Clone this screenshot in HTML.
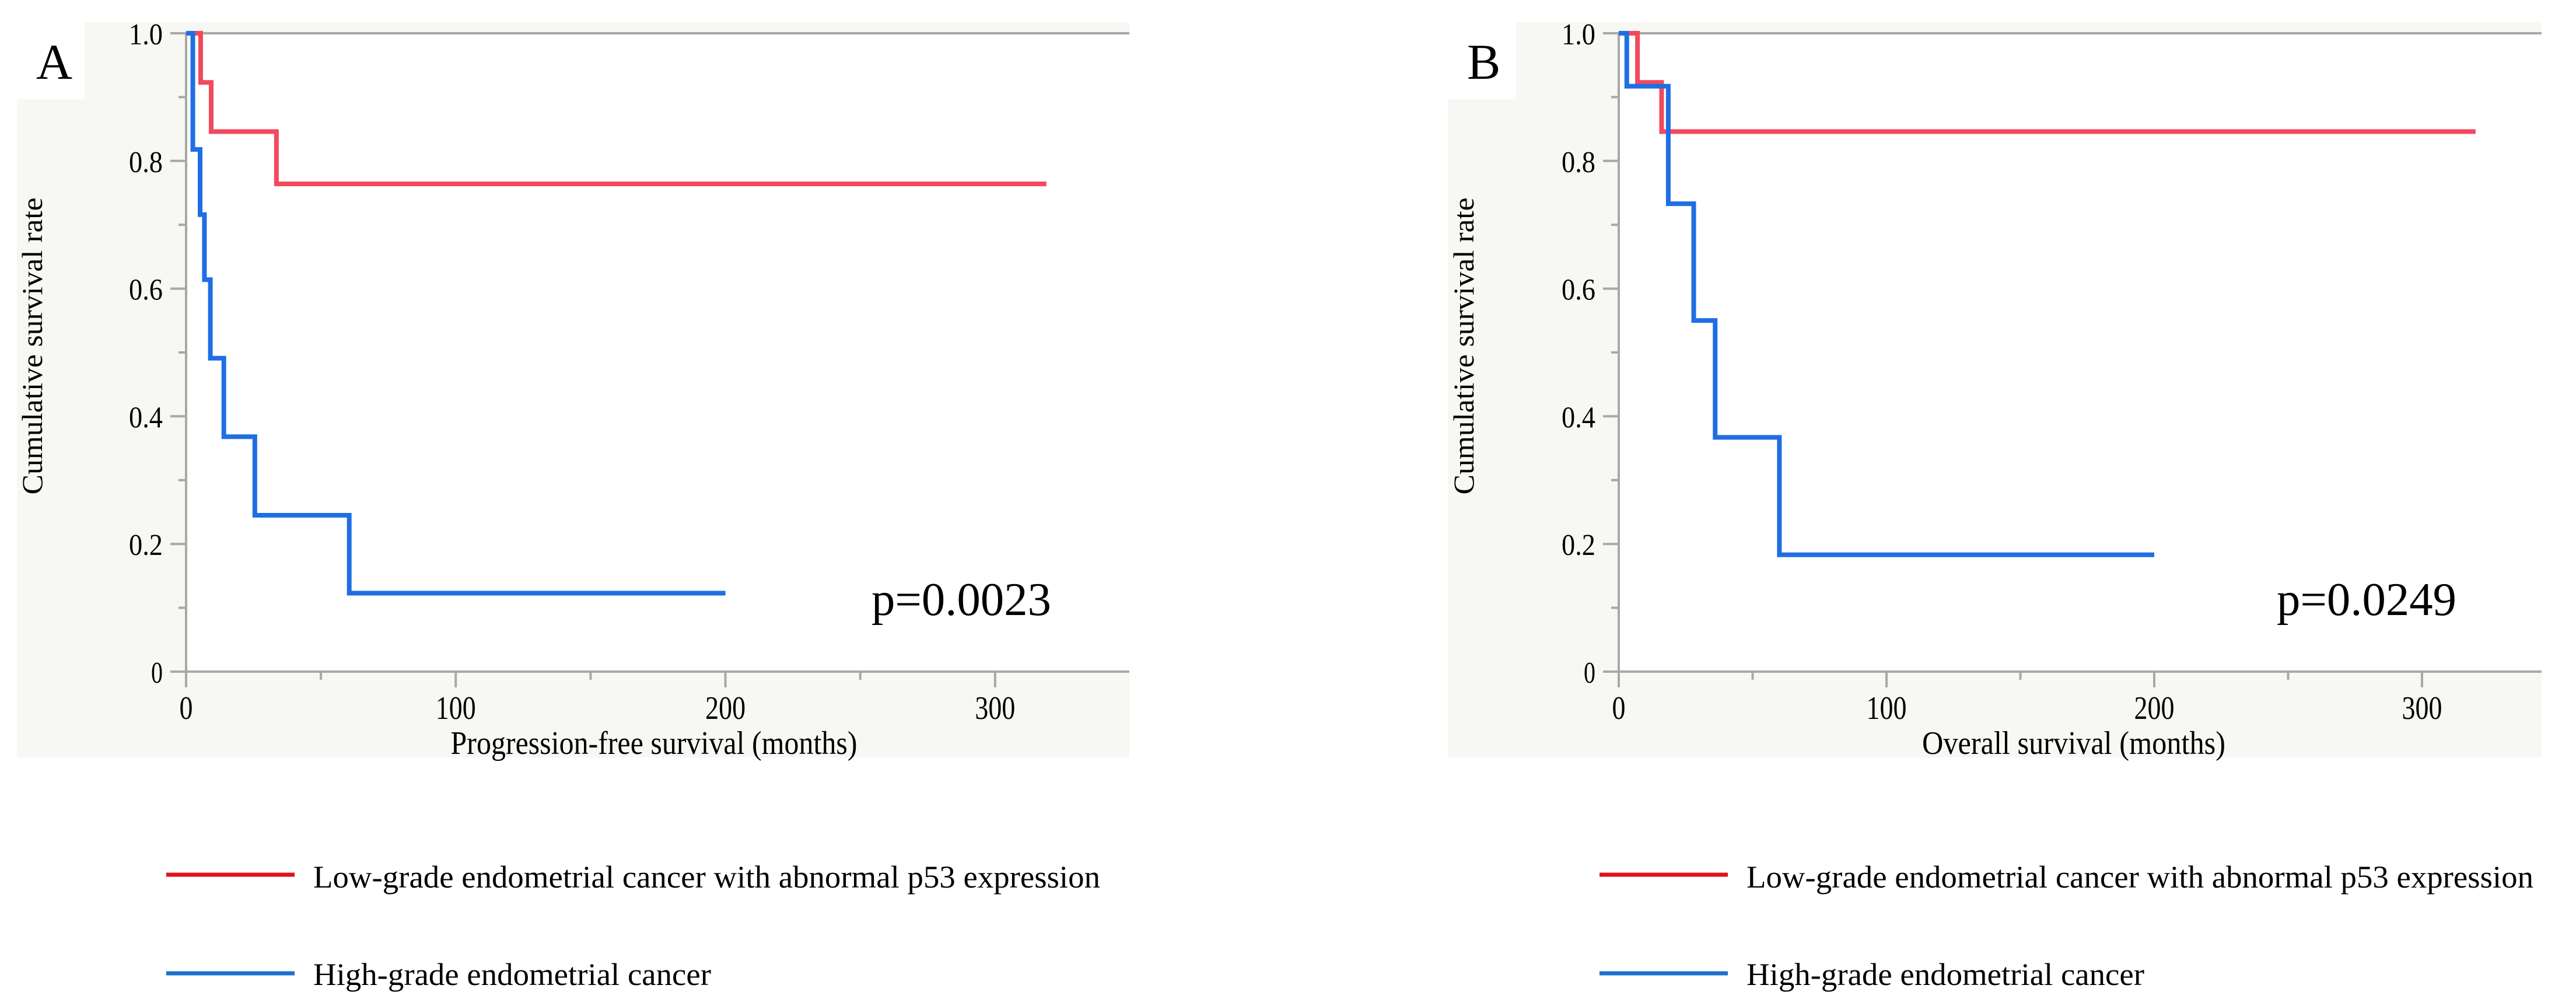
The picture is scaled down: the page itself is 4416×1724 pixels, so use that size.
<!DOCTYPE html>
<html><head><meta charset="utf-8"><style>
html,body{margin:0;padding:0;background:#fff;}
svg{display:block;font-family:"Liberation Serif",serif;}
</style></head><body>
<svg id="root" width="4416" height="1724" viewBox="0 0 4416 1724" xmlns="http://www.w3.org/2000/svg"></svg>
<script>
// Panel A (progression-free survival)
const aLowTimes = [0, 5.4, 9.3, 33.5, 319];
const aLowSurv  = [1.0, 0.923, 0.846, 0.764, 0.764];
const aHighTimes = [0, 2.5, 5.2, 6.8, 9.0, 14.0, 25.5, 60.5, 200];
const aHighSurv  = [1.0, 0.818, 0.716, 0.614, 0.491, 0.368, 0.245, 0.123, 0.123];
// Panel B (overall survival)
const bLowTimes = [0, 7, 16, 320];
const bLowSurv  = [1.0, 0.923, 0.846, 0.846];
const bHighTimes = [0, 3, 18.5, 28, 36, 60, 200];
const bHighSurv  = [1.0, 0.917, 0.733, 0.55, 0.367, 0.183, 0.183];
const xTickVals = [0, 100, 200, 300];
const xMinorVals = [50, 150, 250];
const yTickVals = [0, 0.2, 0.4, 0.6, 0.8, 1.0];
const yTickLabels = ["0", "0.2", "0.4", "0.6", "0.8", "1.0"];
const yMinorVals = [0.1, 0.3, 0.5, 0.7, 0.9];
const pValues = ["p=0.0023", "p=0.0249"];
const panelLetters = ["A", "B"];
const xTitles = ["Progression-free survival (months)", "Overall survival (months)"];
const legendLabels = ["Low-grade endometrial cancer with abnormal p53 expression", "High-grade endometrial cancer"];

const NS = "http://www.w3.org/2000/svg";
const root = document.getElementById('root');
function mk(tag, attrs, parent) {
  const e = document.createElementNS(NS, tag);
  for (const k in attrs) e.setAttribute(k, attrs[k]);
  (parent || root).appendChild(e);
  return e;
}
function txt(parent, s, attrs) {
  const t = mk('text', attrs, parent);
  t.textContent = s;
  return t;
}

function drawPanel(off, idx, lowT, lowS, highT, highS) {
  const g = mk('g', {});
  
  
  const x0 = idx ? 2775 : 319;
  const pxPerUnit = idx ? 4.59 : 4.623;
  const yTop = 57, yBot = 1151;
  const xs = v => x0 + v * pxPerUnit;
  const ys = v => yBot - v * (yBot - yTop);
  const bgLeft = idx ? 2482 : 29;
  const bgRight = idx ? 4357 : 1936;
  const bg = mk('rect', {x: bgLeft, y: 38, width: bgRight - bgLeft, height: 1260, fill: '#f7f7f3'}, g);
  
  
  const plot = mk('rect', {x: x0, y: yTop, width: bgRight - x0, height: yBot - yTop, fill: '#ffffff'}, g);
  
  
  const lb = mk('rect', {x: idx ? 2478 : 0, y: 0, width: idx ? 121 : 145, height: 170, fill: '#ffffff'}, g);
  
  
  const lt = txt(g, panelLetters[idx], {x: idx ? 2515 : 62, y: 135, 'font-size': 86});
  
  
  const top = mk('line', {x1: x0 - 27, y1: yTop, x2: bgRight, y2: yTop, stroke: '#a8a8a8', 'stroke-width': 4}, g);
  
  
  const ya = mk('line', {x1: x0, y1: yTop, x2: x0, y2: yBot + 27, stroke: '#a8a8a8', 'stroke-width': 4}, g);
  
  
  const xa = mk('line', {x1: x0 - 27, y1: yBot, x2: bgRight, y2: yBot, stroke: '#a8a8a8', 'stroke-width': 4}, g);
  
  
  yTickVals.forEach((v, i) => {
    const y = ys(v);
    const tk = mk('line', {x1: x0 - 27, y1: y, x2: x0, y2: y, stroke: '#a8a8a8', 'stroke-width': 4}, g);
    
    
    const lab = yTickLabels[i];
    const t = txt(g, lab, {x: x0 - 40, y: y + 19, 'font-size': 52, 'text-anchor': 'end', textLength: lab.length === 1 ? 20 : 58, lengthAdjust: 'spacingAndGlyphs'});
    
    
  });
  yMinorVals.forEach(v => {
    const tk = mk('line', {x1: x0 - 13, y1: ys(v), x2: x0, y2: ys(v), stroke: '#a8a8a8', 'stroke-width': 4}, g);
    
    
  });
  xTickVals.forEach(v => {
    const x = xs(v);
    const tk = mk('line', {x1: x, y1: yBot, x2: x, y2: yBot + 27, stroke: '#a8a8a8', 'stroke-width': 4}, g);
    
    
    const lab = String(v);
    const t = txt(g, lab, {x: x, y: 1232, 'font-size': 56, 'text-anchor': 'middle', textLength: lab.length * 23, lengthAdjust: 'spacingAndGlyphs'});
    
    
  });
  xMinorVals.forEach(v => {
    const tk = mk('line', {x1: xs(v), y1: yBot, x2: xs(v), y2: yBot + 14, stroke: '#a8a8a8', 'stroke-width': 4}, g);
    
    
  });
  const xtW = idx ? 520 : 697;
  const xt = txt(g, xTitles[idx], {x: idx ? 3555 : 1121, y: 1292, 'font-size': 56, 'text-anchor': 'middle', textLength: xtW, lengthAdjust: 'spacingAndGlyphs'});
  
  
  const ytx = idx ? 2526 : 72;
  const yt = txt(g, 'Cumulative survival rate', {x: 0, y: 0, 'font-size': 50, 'text-anchor': 'middle', textLength: 509, lengthAdjust: 'spacingAndGlyphs', transform: 'translate(' + ytx + ',593) rotate(-90)'});
  
  
  function stepPath(T, S) {
    let d = 'M' + xs(T[0]) + ' ' + ys(S[0]);
    for (let i = 1; i < T.length; i++) {
      d += ' H' + xs(T[i]) + ' V' + ys(S[i]);
    }
    return d;
  }
  const red = mk('path', {d: stepPath(lowT, lowS), fill: 'none', stroke: '#f2495c', 'stroke-width': 8, 'stroke-linejoin': 'miter'}, g);
  
  
  const blue = mk('path', {d: stepPath(highT, highS), fill: 'none', stroke: '#1f6fe3', 'stroke-width': 8, 'stroke-linejoin': 'miter'}, g);
  
  
  const p = txt(g, pValues[idx], {x: idx ? 3903 : 1494, y: 1054, 'font-size': 80, textLength: 308, lengthAdjust: 'spacingAndGlyphs'});
  
  
  const lg = mk('g', {}, g);
  
  
  const lx = 285 + off;
  const l1 = mk('line', {x1: lx, y1: 1499, x2: lx + 220, y2: 1499, stroke: '#e3101c', 'stroke-width': 7}, lg);
  
  
  const t1 = txt(lg, legendLabels[0], {x: lx + 252, y: 1521, 'font-size': 54, textLength: 1349, lengthAdjust: 'spacingAndGlyphs'});
  
  
  const l2 = mk('line', {x1: lx, y1: 1668, x2: lx + 220, y2: 1668, stroke: '#1a72c9', 'stroke-width': 7}, lg);
  
  
  const t2 = txt(lg, legendLabels[1], {x: lx + 252, y: 1688, 'font-size': 54, textLength: 682, lengthAdjust: 'spacingAndGlyphs'});
  
  
}
drawPanel(0, 0, aLowTimes, aLowSurv, aHighTimes, aHighSurv);
drawPanel(2457, 1, bLowTimes, bLowSurv, bHighTimes, bHighSurv);
</script>
</body></html>
